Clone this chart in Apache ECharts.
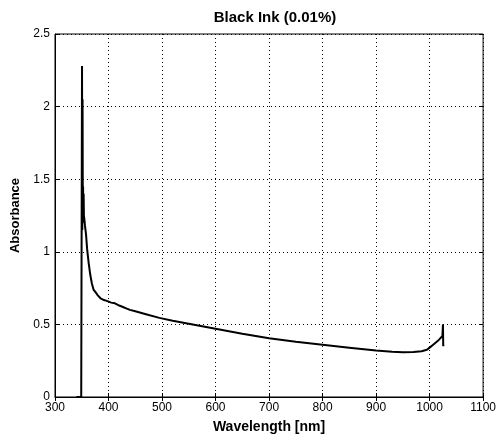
<!DOCTYPE html>
<html><head><meta charset="utf-8">
<script src="https://cdn.jsdelivr.net/npm/echarts@6/dist/echarts.min.js"></script>
<style>html,body{margin:0;padding:0;background:#fff}#c{width:499px;height:439px}</style>
</head><body><div id="c"></div>
<script>
const wavelengths = [340, 349, 350, 350.5, 351, 351.5, 352, 352.5, 353, 353.5, 354, 355, 356, 358, 360, 363, 366, 369, 372, 376, 380, 385, 390, 398, 405, 412, 420, 427, 433, 440, 450, 470, 495, 520, 550, 600, 650, 700, 750, 800, 850, 900, 930, 950, 970, 985, 995, 1000, 1005, 1010, 1015, 1019, 1022, 1024, 1025, 1025.5, 1026];
const absorbance  = [0, 0, 0, 2.28, 1.15, 2.05, 1.25, 1.45, 1.2, 1.4, 1.25, 1.22, 1.18, 1.12, 1.02, 0.92, 0.84, 0.78, 0.74, 0.72, 0.70, 0.68, 0.67, 0.66, 0.65, 0.645, 0.63, 0.62, 0.61, 0.60, 0.59, 0.57, 0.545, 0.525, 0.505, 0.47, 0.435, 0.405, 0.38, 0.36, 0.34, 0.32, 0.312, 0.308, 0.31, 0.315, 0.325, 0.34, 0.355, 0.37, 0.385, 0.40, 0.41, 0.42, 0.50, 0.35, 0.36];
const xTicks = [300, 400, 500, 600, 700, 800, 900, 1000, 1100];
const yTicks = [0, 0.5, 1, 1.5, 2, 2.5];
const titleText = 'Black Ink (0.01%)';
const xName = 'Wavelength [nm]';
const yName = 'Absorbance';

const font = 'Arial, "Liberation Sans", sans-serif';
const chart = echarts.init(document.getElementById('c'));
const gridLine = {show: true, lineStyle: {color: '#000', type: [1, 3], width: 1}};
chart.setOption({
  animation: false,
  title: {text: titleText, left: 270, top: 5, textAlign: 'center',
    textStyle: {fontFamily: font, fontSize: 15, fontWeight: 'bold', color: '#000'}},
  grid: {left: 55, right: 13, top: 34, bottom: 42, show: true, borderColor: '#000', borderWidth: 1, backgroundColor: '#fff'},
  xAxis: [{
    type: 'value', min: xTicks[0], max: xTicks[xTicks.length - 1], interval: 100,
    name: xName, nameLocation: 'middle', nameGap: 23,
    nameTextStyle: {fontFamily: font, fontSize: 14, fontWeight: 'bold', color: '#000'},
    axisLine: {show: true, lineStyle: {color: '#000'}},
    axisTick: {show: true, inside: true, length: 4, lineStyle: {color: '#000'}},
    axisLabel: {fontFamily: font, fontSize: 12, color: '#000', margin: 5, formatter: v => String(v)},
    splitLine: gridLine
  }, {
    type: 'value', position: 'top', min: xTicks[0], max: xTicks[xTicks.length - 1], interval: 100,
    axisLine: {show: false}, axisTick: {show: true, inside: true, length: 4, lineStyle: {color: '#000'}},
    axisLabel: {show: false}, splitLine: {show: false}
  }],
  yAxis: [{
    type: 'value', min: yTicks[0], max: yTicks[yTicks.length - 1], interval: 0.5,
    name: yName, nameLocation: 'middle', nameGap: 33,
    nameTextStyle: {fontFamily: font, fontSize: 13, fontWeight: 'bold', color: '#000'},
    axisLine: {show: true, lineStyle: {color: '#000'}},
    axisTick: {show: true, inside: true, length: 4, lineStyle: {color: '#000'}},
    axisLabel: {fontFamily: font, fontSize: 12, color: '#000', margin: 5, formatter: v => String(v)},
    splitLine: gridLine
  }, {
    type: 'value', position: 'right', min: yTicks[0], max: yTicks[yTicks.length - 1], interval: 0.5,
    axisLine: {show: false}, axisTick: {show: true, inside: true, length: 4, lineStyle: {color: '#000'}},
    axisLabel: {show: false}, splitLine: {show: false}
  }],
  series: [{
    type: 'line', xAxisIndex: 0, yAxisIndex: 0,
    data: wavelengths.map((w, i) => [w, absorbance[i]]),
    showSymbol: false, lineStyle: {color: '#000', width: 2}
  }]
});
</script></body></html>
